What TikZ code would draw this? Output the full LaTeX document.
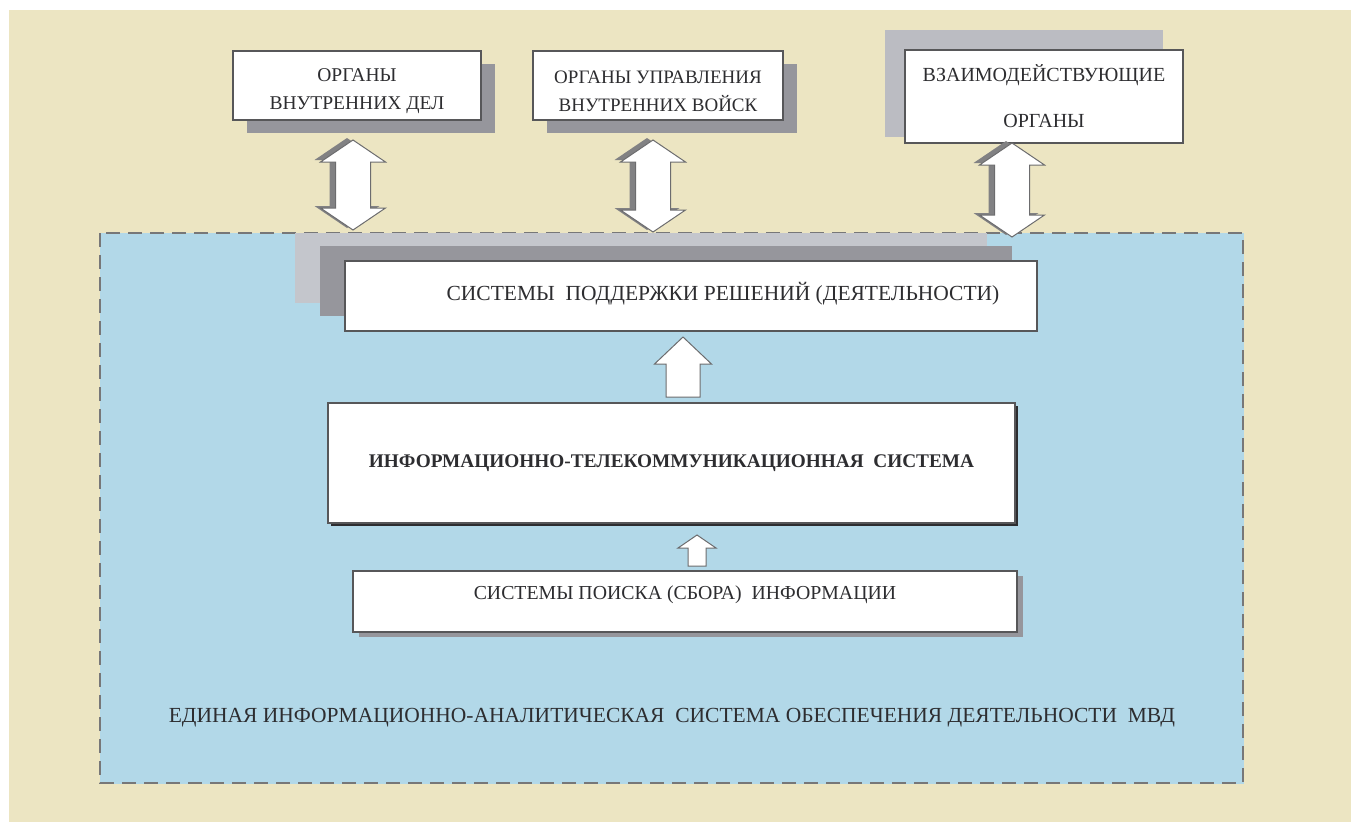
\documentclass[tikz,border=0pt]{standalone}
\usepackage{fontspec}
\setmainfont{Liberation Serif}
\usetikzlibrary{calc}
\usetikzlibrary{shadows}
\definecolor{paper}{RGB}{236,229,194}
\definecolor{pool}{RGB}{178,216,232}
\definecolor{ink}{RGB}{45,45,48}
\definecolor{shade}{RGB}{150,150,156}
\definecolor{lightshade}{RGB}{196,198,204}
\tikzset{
  box/.style={draw=ink!80, line width=1.3pt, fill=white, text=ink, align=center, inner sep=0pt},
  shadebr/.style={general shadow={shadow xshift=#1, shadow yshift=-#1+1pt, fill=shade}},
  arrbody/.style={draw=ink!70, line width=1pt, fill=white, line join=miter},
  arrshadow/.style={draw=none, fill=ink!60, transform canvas={shift={(-6pt,2pt)}}},
}
% block arrow with heads at both ends: style, from, to, half head, half shaft, head length
\newcommand{\dblpath}[6]{%
  \draw[#1] let \p1=(#2), \p2=(#3) in
    (\x1,\y1) -- (\x1+#4pt,\y1-#6pt) -- (\x1+#5pt,\y1-#6pt) -- (\x1+#5pt,\y2+#6pt)
    -- (\x1+#4pt,\y2+#6pt) -- (\x2,\y2) -- (\x1-#4pt,\y2+#6pt) -- (\x1-#5pt,\y2+#6pt)
    -- (\x1-#5pt,\y1-#6pt) -- (\x1-#4pt,\y1-#6pt) -- cycle;
}
\newcommand{\dblblock}[5]{%
  \dblpath{arrshadow}{#1}{#2}{#3}{#4}{#5}
  \dblpath{arrbody}{#1}{#2}{#3}{#4}{#5}
}
% block arrow pointing up: from (tail), to (tip), half head, half shaft, head length
\newcommand{\upblock}[5]{%
  \draw[arrbody] let \p1=(#1), \p2=(#2) in
    (\x2,\y2) -- (\x2+#3pt,\y2-#5pt) -- (\x2+#4pt,\y2-#5pt) -- (\x2+#4pt,\y1)
    -- (\x2-#4pt,\y1) -- (\x2-#4pt,\y2-#5pt) -- (\x2-#3pt,\y2-#5pt) -- cycle;
}

\begin{document}
\begin{tikzpicture}[x=1pt,y=-1pt]
  \useasboundingbox (0,0) rectangle (1351,822);
  \fill[white] (0,0) rectangle (1351,822);
  \fill[paper] (9,10) rectangle (1351,822);

  % common area
  \draw[pool, fill=pool] (100,233) rectangle (1243,783);
  \draw[ink!65, line width=2.2pt, dash pattern=on 14pt off 8pt] (100,233) rectangle (1243,783);

  % outer bodies
  \node[box, shadebr=14pt, minimum width=248, minimum height=69, font=\fontsize{19.5}{28}\selectfont]
    (mvd) at (357,85.5) {\rule{0pt}{24pt}ОРГАНЫ\\ВНУТРЕННИХ ДЕЛ};
  \node[box, shadebr=14pt, minimum width=250, minimum height=69, font=\fontsize{19}{28}\selectfont]
    (vv) at (658,85.5) {\rule{0pt}{24pt}ОРГАНЫ УПРАВЛЕНИЯ\\ВНУТРЕННИХ ВОЙСК};
  \node[box, minimum width=278, minimum height=93, font=\fontsize{20}{46}\selectfont,
    general shadow={shadow xshift=-20pt, shadow yshift=6pt, fill=lightshade!80!shade},
    general shadow={shadow xshift=-20pt, shadow yshift=20pt, fill=lightshade!80!shade}]
    (vzo) at (1044,96.5) {ВЗАИМОДЕЙСТВУЮЩИЕ\\ОРГАНЫ};

  % inner systems
  \node[box, minimum width=692, minimum height=70,
    general shadow={shadow xshift=-50pt, shadow yshift=28pt, fill=lightshade},
    general shadow={shadow xshift=-25pt, shadow yshift=15pt, fill=shade}]
    (spr) at (691,296) {};
  \node[text=ink, font=\fontsize{21.5}{24}\selectfont] (sprt) at (723,294)
    {СИСТЕМЫ\ \ ПОДДЕРЖКИ РЕШЕНИЙ (ДЕЯТЕЛЬНОСТИ)};
  \node[box, minimum width=687, minimum height=120, font=\bfseries\fontsize{19.3}{24}\selectfont,
    general shadow={shadow xshift=3pt, shadow yshift=-3pt, fill=ink}]
    (its) at (671.5,463) {ИНФОРМАЦИОННО-ТЕЛЕКОММУНИКАЦИОННАЯ\ \ СИСТЕМА};
  \node[box, shadebr=6pt, minimum width=664, minimum height=61] (sps) at (685,601.5) {};
  \node[text=ink, font=\fontsize{19.8}{24}\selectfont] (spst) at (685,595)
    {СИСТЕМЫ ПОИСКА (СБОРА)\ \ ИНФОРМАЦИИ};

  \node[text=ink, font=\fontsize{21.5}{24}\selectfont] (eias) at (672,718)
    {ЕДИНАЯ ИНФОРМАЦИОННО-АНАЛИТИЧЕСКАЯ\ \ СИСТЕМА ОБЕСПЕЧЕНИЯ ДЕЯТЕЛЬНОСТИ\ \ МВД};

  % links
  \coordinate (u1) at (353,140);  \coordinate (d1) at (353,230);
  \coordinate (u2) at (653,140);  \coordinate (d2) at (653,232);
  \coordinate (u3) at (1012,143); \coordinate (d3) at (1012,237);
  \dblblock{u1}{d1}{32.5}{17.5}{22}
  \dblblock{u2}{d2}{32.5}{17.5}{22}
  \dblblock{u3}{d3}{32.5}{17.5}{22}
  \coordinate (t4) at (683,397); \coordinate (h4) at (683,337);
  \coordinate (t5) at (697,566); \coordinate (h5) at (697,535);
  \upblock{t4}{h4}{28.5}{17}{27}
  \upblock{t5}{h5}{19}{9}{13}
\end{tikzpicture}
\end{document}
